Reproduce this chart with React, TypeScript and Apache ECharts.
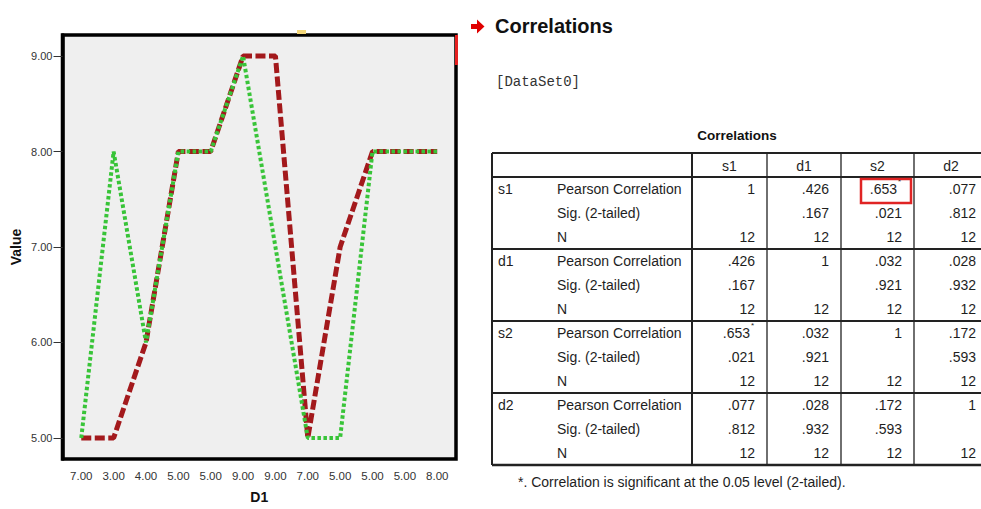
import React, { useEffect, useRef } from "react";
import * as echarts from "echarts";

// ---- Chart data ----
const categories = ["7.00", "3.00", "4.00", "5.00", "5.00", "9.00", "9.00", "7.00", "5.00", "5.00", "5.00", "8.00"];
const d1Values = [5, 5, 6, 8, 8, 9, 9, 5, 7, 8, 8, 8]; // dark red dashed
const s1Values = [5, 8, 6, 8, 8, 9, 7, 5, 5, 8, 8, 8]; // green dotted
const yTicks = [5, 6, 7, 8, 9];
const xAxisTitle = "D1";
const yAxisTitle = "Value";

// ---- Table data ----
const pageTitle = "Correlations";
const datasetLabel = "[DataSet0]";
const tableTitle = "Correlations";
const tableVars = ["s1", "d1", "s2", "d2"];
const statLabels = ["Pearson Correlation", "Sig. (2-tailed)", "N"];
const pearsonRows = [
  ["1", ".426", ".653*", ".077"],
  [".426", "1", ".032", ".028"],
  [".653*", ".032", "1", ".172"],
  [".077", ".028", ".172", "1"],
];
const sigRows = [
  ["", ".167", ".021", ".812"],
  [".167", "", ".921", ".932"],
  [".021", ".921", "", ".593"],
  [".812", ".932", ".593", ""],
];
const nRows = [
  ["12", "12", "12", "12"],
  ["12", "12", "12", "12"],
  ["12", "12", "12", "12"],
  ["12", "12", "12", "12"],
];
const footnote = "*. Correlation is significant at the 0.05 level (2-tailed).";

const SANS = "'Liberation Sans', Arial, sans-serif";
const TXT = "#1e1e1e";

function buildTable(): any[] {
  const els: any[] = [];
  const left = 492;
  const colEdges = [692, 767, 841, 914, 988];
  const top = 153;
  const headH = 24;
  const rowH = 24;
  const groupH = rowH * 3;
  const bottom = top + headH + groupH * 4;
  const lineC = "#222";
  const font = `14px ${SANS}`;

  els.push({
    type: "text", x: 737, y: 135,
    style: { text: tableTitle, fill: "#111", font: `bold 13.5px ${SANS}`, textAlign: "center", textVerticalAlign: "middle" },
  });
  els.push({ type: "line", shape: { x1: left, y1: top, x2: 981, y2: top }, style: { stroke: lineC, lineWidth: 2 } });
  els.push({ type: "line", shape: { x1: left, y1: bottom, x2: 981, y2: bottom }, style: { stroke: lineC, lineWidth: 2.5 } });
  els.push({ type: "line", shape: { x1: left, y1: top, x2: left, y2: bottom }, style: { stroke: lineC, lineWidth: 2 } });
  colEdges.slice(0, 4).forEach((x, i) => {
    els.push({ type: "line", shape: { x1: x, y1: top, x2: x, y2: bottom }, style: { stroke: lineC, lineWidth: i === 0 ? 2 : 1.3 } });
  });
  for (let g = 0; g <= 3; g++) {
    const y = top + headH + g * groupH;
    els.push({ type: "line", shape: { x1: left, y1: y, x2: 981, y2: y }, style: { stroke: lineC, lineWidth: 1.8 } });
  }
  tableVars.forEach((v, c) => {
    els.push({
      type: "text", x: (colEdges[c] + colEdges[c + 1]) / 2, y: top + headH / 2 + 0.5,
      style: { text: v, fill: TXT, font, textAlign: "center", textVerticalAlign: "middle" },
    });
  });
  const sets = [pearsonRows, sigRows, nRows];
  tableVars.forEach((rv, g) => {
    const gy = top + headH + g * groupH;
    els.push({
      type: "text", x: 498, y: gy + rowH / 2,
      style: { text: rv, fill: TXT, font, textAlign: "left", textVerticalAlign: "middle" },
    });
    statLabels.forEach((lab, r) => {
      const cy = gy + rowH / 2 + r * rowH;
      els.push({
        type: "text", x: 557, y: cy,
        style: { text: lab, fill: TXT, font, textAlign: "left", textVerticalAlign: "middle" },
      });
      sets[r][g].forEach((val, c) => {
        if (!val) return;
        const star = val.endsWith("*");
        const txt = star ? val.slice(0, -1) : val;
        const rx = colEdges[c + 1] - 12 - (star ? 5 : 0);
        els.push({
          type: "text", x: rx, y: cy,
          style: { text: txt, fill: TXT, font, textAlign: "right", textVerticalAlign: "middle" },
        });
        if (star) {
          els.push({
            type: "text", x: rx + 1, y: cy - 8,
            style: { text: "*", fill: TXT, font: `8px ${SANS}`, textAlign: "left", textVerticalAlign: "middle" },
          });
        }
      });
    });
  });
  els.push({
    type: "rect", shape: { x: 861, y: 179, width: 50, height: 24 },
    style: { fill: "none", stroke: "#e02424", lineWidth: 2.5 },
  });
  els.push({
    type: "text", x: 518, y: 482,
    style: { text: footnote, fill: TXT, font, textAlign: "left", textVerticalAlign: "middle" },
  });
  return els;
}

export default function App() {
  const ref = useRef<HTMLDivElement>(null);
  useEffect(() => {
    if (!ref.current) return;
    const chart = echarts.init(ref.current, undefined, { renderer: "svg" });
    const xIdx = categories.map((_, i) => i);
    const option: any = {
      animation: false,
      backgroundColor: "#ffffff",
      grid: {
        left: 62.5, top: 35, width: 393.5, height: 430.5,
        show: true, backgroundColor: "#efefef", borderColor: "#000", borderWidth: 3.5,
      },
      xAxis: {
        type: "value", min: -0.58, max: 11.58,
        name: xAxisTitle, nameLocation: "middle", nameGap: 31,
        nameTextStyle: { fontFamily: SANS, fontWeight: "bold", fontSize: 14, color: "#111" },
        axisLine: { show: false, onZero: false }, splitLine: { show: false },
        axisTick: { show: false },
        axisLabel: {
          customValues: xIdx, margin: 11,
          formatter: (v: number) => categories[Math.round(v)] ?? "",
          fontFamily: SANS, fontSize: 11.5, color: "#333",
        },
      },
      yAxis: {
        type: "value", min: 4.78, max: 9.22,
        name: yAxisTitle, nameLocation: "middle", nameGap: 40, nameRotate: 90,
        nameTextStyle: { fontFamily: SANS, fontWeight: "bold", fontSize: 14, color: "#111" },
        axisLine: { show: true, onZero: false, lineStyle: { color: "#000", width: 3.5 } },
        splitLine: { show: false },
        axisTick: { show: true, inside: false, length: 9, customValues: yTicks, lineStyle: { color: "#333", width: 1 } },
        axisLabel: {
          customValues: yTicks, margin: 10,
          formatter: (v: number) => v.toFixed(2),
          fontFamily: SANS, fontSize: 11, color: "#333",
        },
      },
      series: [
        {
          type: "line", name: "d1", symbol: "none",
          data: d1Values.map((v, i) => [i, v]),
          lineStyle: { color: "#a3191c", width: 5, type: [10, 3.5], cap: "butt" },
          z: 2,
        },
        {
          type: "line", name: "s1", symbol: "none",
          data: s1Values.map((v, i) => [i, v]),
          lineStyle: { color: "#38c438", width: 4, type: [3.5, 2.5], cap: "butt" },
          z: 3,
        },
      ],
      graphic: [
        { type: "rect", shape: { x: 297, y: 30, width: 9, height: 4 }, style: { fill: "#f3d77a" } },
        { type: "rect", shape: { x: 455, y: 35, width: 3, height: 30 }, style: { fill: "#e62020" } },
        {
          type: "polygon",
          shape: { points: [[471, 24], [477, 24], [477, 19.5], [484.5, 26.5], [477, 33.5], [477, 29], [471, 29]] },
          style: { fill: "#e00000" },
        },
        {
          type: "text", x: 495, y: 26,
          style: { text: pageTitle, fill: "#111", font: `bold 20px ${SANS}`, textAlign: "left", textVerticalAlign: "middle" },
        },
        {
          type: "text", x: 496, y: 82,
          style: { text: datasetLabel, fill: "#333", font: "14px 'Liberation Mono', 'Courier New', monospace", textAlign: "left", textVerticalAlign: "middle" },
        },
        ...buildTable(),
      ],
    };
    chart.setOption(option);
    return () => chart.dispose();
  }, []);
  return (
    <div
      ref={ref}
      style={{ position: "fixed", left: 0, top: 0, width: 981, height: 509, background: "#fff" }}
    />
  );
}
